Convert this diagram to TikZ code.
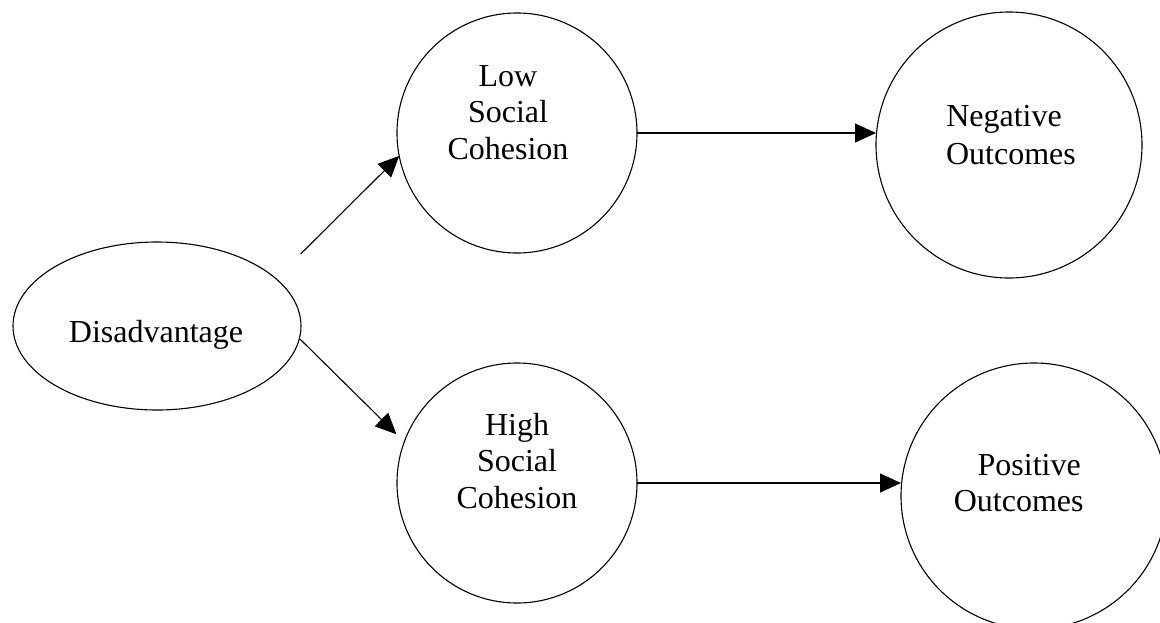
\documentclass[tikz,border=0pt]{standalone}
\usepackage{fontspec}
\setmainfont{Liberation Serif}
\usetikzlibrary{arrows.meta,shapes.geometric}
\begin{document}
\begin{tikzpicture}[x=1pt,y=-1pt,
  bubble/.style={draw=black,line width=1.1pt,circle,inner sep=0pt,outer sep=0pt},
  oval/.style={draw=black,line width=1.1pt,ellipse,inner sep=0pt,outer sep=0pt,minimum width=288pt,minimum height=168pt},
  lbl/.style={anchor=base,inner sep=0pt,font=\fontsize{32}{36.6}\selectfont},
  arr/.style={draw=black,line width=1.1pt,-{Triangle[length=21pt,width=19pt]}}]
\useasboundingbox (0,0) rectangle (1160,622);
\clip (0,0) rectangle (1160,622);
% shapes
\node[oval] (dis) at (157,326) {};
\node[bubble,minimum size=240pt] (low) at (517,133) {};
\node[bubble,minimum size=240pt] (high) at (517,483) {};
\node[bubble,minimum size=266pt] (neg) at (1009,145) {};
\node[bubble,minimum size=266pt] (pos) at (1034,496) {};
% texts
\node[lbl] (distxt) at (156,342) {Disadvantage};
\node[lbl] (lowtxt) at (508,86) {\begin{tabular}[t]{@{}c@{}}Low\\Social\\Cohesion\end{tabular}};
\node[lbl] (hightxt) at (517,435) {\begin{tabular}[t]{@{}c@{}}High\\Social\\Cohesion\end{tabular}};
\node[lbl,font=\fontsize{32}{38}\selectfont] (negtxt) at (1007.5,126) {\begin{tabular}[t]{@{}c@{}}Negative\hspace*{7pt}\\\hspace*{7pt}Outcomes\end{tabular}};
\node[lbl] (postxt) at (1024,475) {\begin{tabular}[t]{@{}c@{}}\hspace*{10.5pt}Positive\\Outcomes\hspace*{10.5pt}\end{tabular}};
% connectors
\coordinate (ustart) at (300.7,254);
\draw[arr] (ustart) -- (low.191);
\draw[arr,shorten >=11pt] (dis.-5) -- (high.160);
\draw[arr] (low.east) -- (low.east -| neg.west);
\draw[arr] (high.east) -- (high.east -| pos.west);
\end{tikzpicture}
\end{document}
